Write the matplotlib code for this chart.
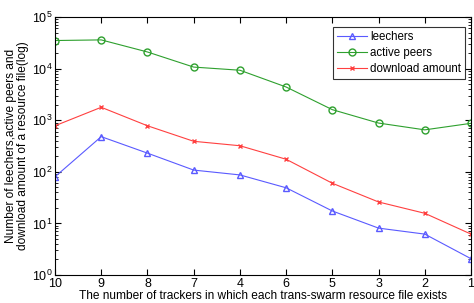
import matplotlib
matplotlib.use("Agg")
import matplotlib.pyplot as plt
from matplotlib.ticker import LogLocator, NullFormatter

plt.rcParams['font.family'] = ['Liberation Sans', 'DejaVu Sans']

# data
trackers = ['10', '9', '8', '7', '4', '6', '5', '3', '2', '1']
leechers = [80, 480, 230, 108, 87, 49, 17.4, 8.1, 6.2, 2.07]
active_peers = [35000, 36000, 21000, 10700, 9300, 4400, 1600, 880, 650, 870]
download_amount = [780, 1780, 780, 390, 320, 175, 60, 26, 15.7, 6.2]

fig = plt.figure(figsize=(4.74, 3.03), dpi=100)
ax = fig.add_axes([55/474, 28/303, 416/474, 258/303])

x = list(range(len(trackers)))
ax.plot(x, leechers, color='#5a5aff', marker='^', mfc='none', ms=5, lw=0.8, label='leechers')
ax.plot(x, active_peers, color='#2ea02e', marker='o', mfc='none', ms=5, lw=0.8, label='active peers')
ax.plot(x, download_amount, color='#ff4040', marker='x', ms=3, lw=0.8, label='download amount')

ax.set_yscale('log')
ax.set_ylim(1, 1e5)
ax.set_xlim(0, len(trackers) - 1)
ax.set_xticks(x)
ax.set_xticklabels(trackers)
ax.yaxis.set_minor_locator(LogLocator(base=10, subs=range(2, 10), numticks=20))
ax.yaxis.set_minor_formatter(NullFormatter())
ax.tick_params(which='both', direction='in', top=True, right=True, labelsize=9)
ax.tick_params(axis='x', pad=2)
ax.tick_params(axis='y', pad=2)
ax.tick_params(which='major', length=4)
ax.tick_params(which='minor', length=2)

ax.set_xlabel('The number of trackers in which each trans-swarm resource file exists', fontsize=8.6, labelpad=0)
ax.set_ylabel('Number of leechers,active peers and\ndownload amount of a resource file(log)', fontsize=8.6,
              labelpad=2, linespacing=1.0)

leg = ax.legend(loc='upper right', bbox_to_anchor=(0.9856, 0.961), borderaxespad=0,
                fontsize=8.3, fancybox=False, edgecolor='black',
                handlelength=2.6, handletextpad=0.3, borderpad=0.35, labelspacing=0.35)
leg.get_frame().set_linewidth(0.8)

fig.savefig('out.png', dpi=100)
